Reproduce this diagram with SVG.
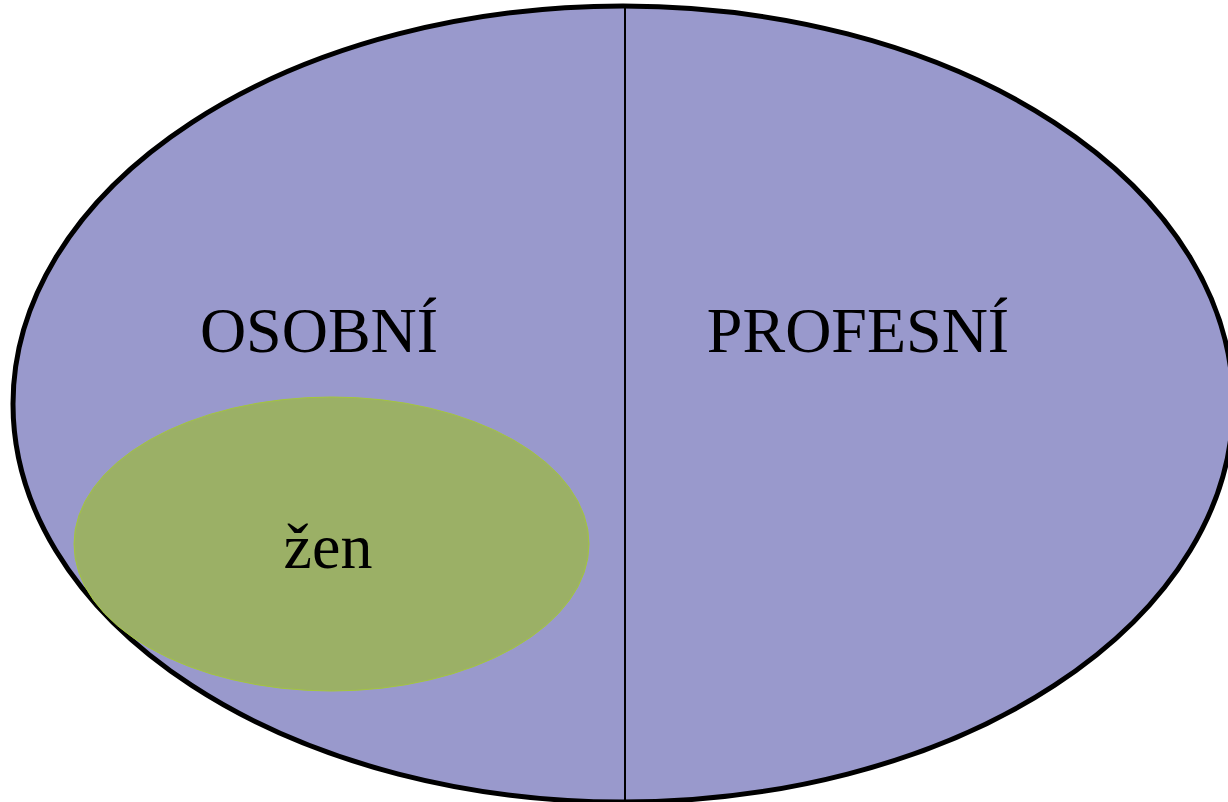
<svg xmlns="http://www.w3.org/2000/svg" width="1228" height="802" viewBox="0 0 1228 802">
<style>
text{font-family:"Liberation Serif","Times New Roman",serif;font-size:64px;fill:#000;text-anchor:middle}
</style>
<rect width="1228" height="802" fill="#fff"/>
<g id="outer">
<ellipse cx="623" cy="404" rx="610" ry="398" fill="#9999cc" stroke="#000" stroke-width="5"/>
</g>
<g id="connectors">
<line x1="625" y1="6" x2="625" y2="802" stroke="#000" stroke-width="2"/>
</g>
<g id="zen">
<ellipse cx="331.5" cy="544" rx="257.5" ry="147" fill="#9bb066" stroke="#a4c63e" stroke-width="1"/>
<text x="328" y="568">žen</text>
</g>
<g id="osobni"><text x="319" y="352">OSOBNÍ</text></g>
<g id="profesni"><text x="858" y="352">PROFESNÍ</text></g>
</svg>
